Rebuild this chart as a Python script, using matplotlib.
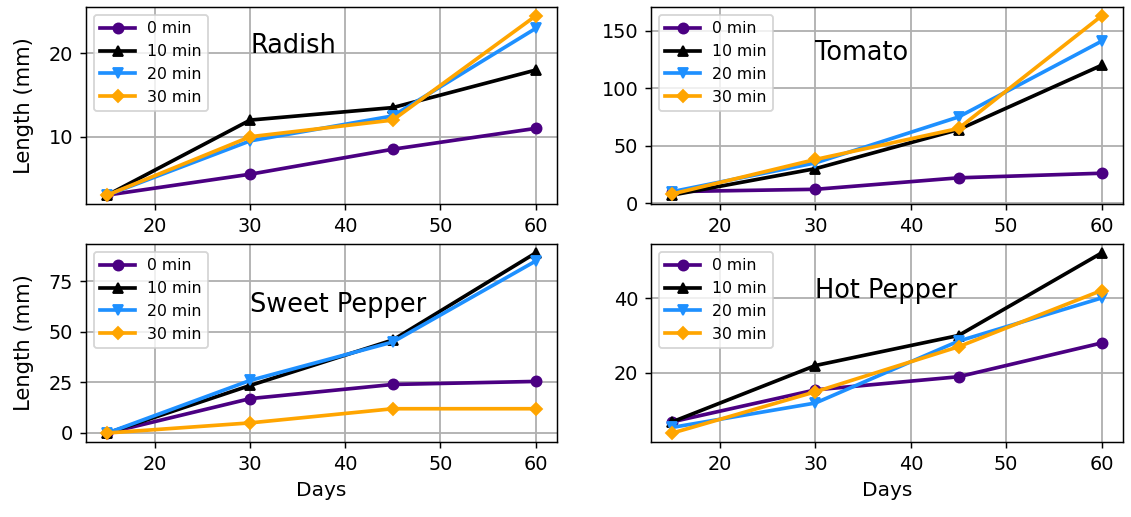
import matplotlib
matplotlib.use("Agg")
import matplotlib.pyplot as plt

days = [15, 30, 45, 60]
series_labels = ["0 min", "10 min", "20 min", "30 min"]
crops = ["Radish", "Tomato", "Sweet Pepper", "Hot Pepper"]

radish = [
    [3, 5.5, 8.5, 11],
    [3, 12, 13.5, 18],
    [3, 9.5, 12.5, 23],
    [3, 10, 12, 24.5],
]
tomato = [
    [10, 12, 22, 26],
    [7, 30, 64, 120],
    [10, 35, 75, 141],
    [8, 38, 65, 163],
]
sweet_pepper = [
    [0, 17, 24, 25.5],
    [0, 23.5, 46, 89],
    [0, 26, 45, 85],
    [0, 5, 12, 12],
]
hot_pepper = [
    [7, 15.5, 19, 28],
    [7, 22, 30, 52],
    [5.5, 12, 28.5, 40],
    [4, 15, 27, 42],
]
label_y = [20, 125, 60, 40]
x_ticks = [20, 30, 40, 50, 60]
y_ticks = [[10, 20], [0, 50, 100, 150], [0, 25, 50, 75], [20, 40]]

colors = ["indigo", "black", "dodgerblue", "orange"]
markers = ["o", "^", "v", "D"]

DPI = 132
W, H = 1131, 517
fig = plt.figure(figsize=(W / DPI, H / DPI), dpi=DPI)
boxes = [
    (86, 7, 557, 204),
    (651, 7, 1123, 204),
    (86, 244, 557, 442),
    (651, 244, 1123, 442),
]
data = [radish, tomato, sweet_pepper, hot_pepper]
for i, (crop, vals) in enumerate(zip(crops, data)):
    x0, y0, x1, y1 = boxes[i]
    ax = fig.add_axes([x0 / W, 1 - y1 / H, (x1 - x0) / W, (y1 - y0) / H])
    for j in range(4):
        ax.plot(days, vals[j], color=colors[j], marker=markers[j], lw=2,
                ms=5.5 if markers[j] != "D" else 5, label=series_labels[j])
    ax.grid(True, color="#b0b0b0", lw=1)
    ax.set_axisbelow(True)
    ax.text(30, label_y[i], crop, fontsize=14)
    ax.legend(loc="upper left", fontsize=8.6, handlelength=2.2)
    ax.set_xticks(x_ticks)
    ax.set_yticks(y_ticks[i])
    ax.tick_params(labelsize=10.5)
    if i % 2 == 0:
        ax.set_ylabel("Length (mm)", fontsize=11.5, labelpad=8)
    if i >= 2:
        ax.set_xlabel("Days", fontsize=11)

fig.savefig("out.png", dpi=DPI)
